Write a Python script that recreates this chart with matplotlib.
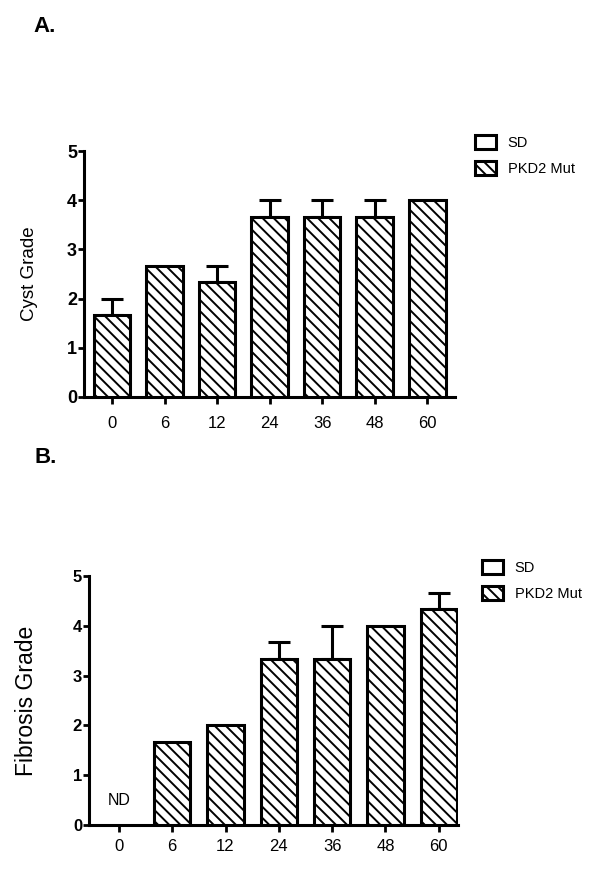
import matplotlib
matplotlib.use('Agg')
import matplotlib.pyplot as plt
from matplotlib.patches import Patch
import numpy as np

plt.rcParams['font.family'] = ['Liberation Sans', 'DejaVu Sans']
plt.rcParams['hatch.linewidth'] = 1.4

# Time points (x categories)
time_labels = ['0', '6', '12', '24', '36', '48', '60']

# Panel A: cyst grade
cyst_mean = [1.667, 2.667, 2.333, 3.667, 3.667, 3.667, 4.0]
cyst_err = [0.333, 0.0, 0.333, 0.333, 0.333, 0.333, 0.0]

# Panel B: fibrosis grade (None = not determined)
fibrosis_mean = [None, 1.667, 2.0, 3.333, 3.333, 4.0, 4.333]
fibrosis_err = [0.0, 0.0, 0.0, 0.333, 0.667, 0.0, 0.333]

legend_labels = ['SD', 'PKD2 Mut']

HATCH = '\\\\\\'  # three backslashes


def draw_panel(ax, means, errs, width, xlim, ylabel, ylabel_size, label_x, xtick_pad, ytick_size):
    """Draw one hatched bar panel with upper error bars"""
    x = np.arange(len(time_labels))
    keep = [i for i in range(len(means)) if means[i] is not None]
    xs = x[keep]
    ys = np.array([means[i] for i in keep])
    es = np.array([errs[i] for i in keep])

    # Error bars first so the bar outline sits on top
    has_err = es > 0
    ax.errorbar(xs[has_err], ys[has_err], yerr=[np.zeros(has_err.sum()), es[has_err]],
                fmt='none', ecolor='black', elinewidth=2.2, capsize=8, capthick=2.2, zorder=2)
    ax.bar(xs, ys, width=width, color='white', edgecolor='black', linewidth=2.2,
           hatch=HATCH, zorder=3)

    ax.set_xlim(*xlim)
    ax.set_ylim(0, 5)
    ax.set_yticks([0, 1, 2, 3, 4, 5])
    ax.set_xticks(x)
    ax.set_xticklabels(time_labels, fontsize=12)
    for lab in ax.get_yticklabels():
        lab.set_fontweight('bold')
        lab.set_fontsize(ytick_size)

    ax.spines['top'].set_visible(False)
    ax.spines['right'].set_visible(False)
    ax.spines['left'].set_linewidth(2.2)
    ax.spines['bottom'].set_linewidth(2.2)
    ax.tick_params(axis='y', length=4, width=2, pad=1)
    ax.tick_params(axis='x', length=5, width=2, pad=xtick_pad)

    ax.set_ylabel(ylabel, fontsize=ylabel_size)
    ax.yaxis.set_label_coords(label_x, 0.5)


fig = plt.figure(figsize=(6, 8.83), dpi=100)

# Panel A
ax_a = fig.add_axes([84 / 600, 1 - 397 / 883, 371 / 600, 246 / 883])
draw_panel(ax_a, cyst_mean, cyst_err, 0.70, (-0.533, 6.53), 'Cyst Grade', 13.5, -0.124, 9, 13)

# Panel B
ax_b = fig.add_axes([89 / 600, 1 - 825 / 883, 369 / 600, 249 / 883])
draw_panel(ax_b, fibrosis_mean, fibrosis_err, 0.68, (-0.56, 6.36), 'Fibrosis Grade', 16.5, -0.138, 5, 12)
ax_b.text(0, 0.5, 'ND', ha='center', va='center', fontsize=11.5)

# Legends
handles = [Patch(facecolor='white', edgecolor='black', linewidth=2.2),
           Patch(facecolor='white', edgecolor='black', linewidth=2.2, hatch=HATCH)]
for top_px, left_px in [(135, 475), (560, 482)]:
    fig.legend(handles, legend_labels, loc='upper left',
               bbox_to_anchor=(left_px / 600, 1 - top_px / 883), frameon=False,
               fontsize=10.5, handlelength=1.45, handleheight=1.15, handletextpad=0.8,
               labelspacing=0.72, borderpad=0, borderaxespad=0)

# Panel letters
fig.text(33 / 600, 1 - 26 / 883, 'A.', fontsize=16, fontweight='bold', va='center', ha='left')
fig.text(35 / 600, 1 - 458 / 883, 'B.', fontsize=16, fontweight='bold', va='center', ha='left')

fig.savefig('out.png', dpi=100)
